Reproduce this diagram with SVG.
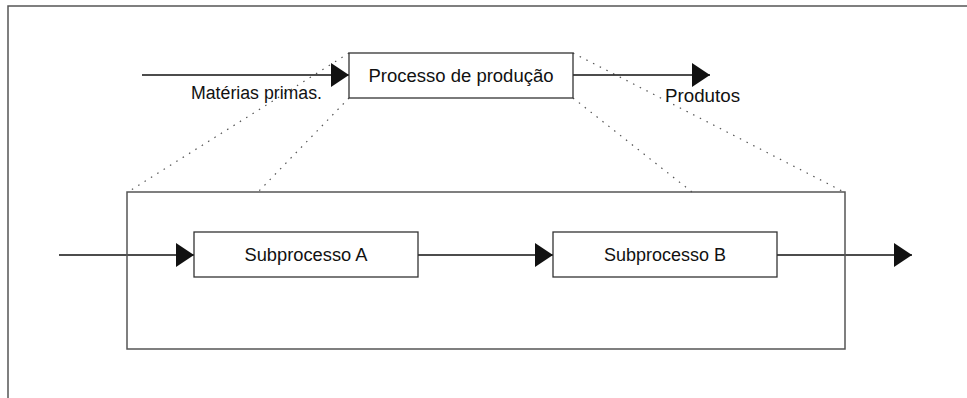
<svg xmlns="http://www.w3.org/2000/svg" width="967" height="398" viewBox="0 0 967 398">
<style>
.box{fill:#fff;stroke:#333;stroke-width:1.3}
.frame{fill:none;stroke:#555;stroke-width:1.5}
.ln{fill:none;stroke:#111;stroke-width:1.4}
.dot{fill:none;stroke:#555;stroke-width:1.2;stroke-dasharray:1.5 6}
text{font-family:"Liberation Sans",Arial,sans-serif;font-size:18px;fill:#111}
</style>
<defs>
<marker id="ah" markerUnits="userSpaceOnUse" markerWidth="20" markerHeight="26" refX="18" refY="12" orient="auto" overflow="visible">
<path d="M0,0 L18,12 L0,24 Z" fill="#111"/>
</marker>
</defs>
<rect width="967" height="398" fill="#fff"/>
<path class="frame" d="M8,398 V6 H967"/>
<g id="connectors">
<line class="dot" x1="349" y1="53" x2="128" y2="192"/>
<line class="dot" x1="349" y1="98" x2="258" y2="192"/>
<line class="dot" x1="573" y1="53" x2="844" y2="192"/>
<line class="dot" x1="573" y1="98" x2="692" y2="192"/>
<line class="ln" x1="142" y1="75" x2="349" y2="75" marker-end="url(#ah)"/>
<line class="ln" x1="573" y1="75" x2="710" y2="75" marker-end="url(#ah)"/>
<line class="ln" x1="59" y1="255" x2="194" y2="255" marker-end="url(#ah)"/>
<line class="ln" x1="418" y1="255" x2="553" y2="255" marker-end="url(#ah)"/>
<line class="ln" x1="777" y1="255" x2="912" y2="255" marker-end="url(#ah)"/>
</g>
<g id="processo-detalhe">
<rect class="frame" x="127" y="192" width="718" height="157"/>
</g>
<g id="processo">
<rect class="box" x="349" y="53" width="224" height="45"/>
<text x="461" y="82" text-anchor="middle" textLength="185" lengthAdjust="spacingAndGlyphs">Processo de produção</text>
</g>
<g id="materias">
<text x="191" y="99" textLength="131" lengthAdjust="spacingAndGlyphs">Matérias primas.</text>
</g>
<g id="produtos">
<text x="665" y="102" textLength="75" lengthAdjust="spacingAndGlyphs">Produtos</text>
</g>
<g id="subA">
<rect class="box" x="194" y="232" width="224" height="45"/>
<text x="306" y="261" text-anchor="middle" textLength="123" lengthAdjust="spacingAndGlyphs">Subprocesso A</text>
</g>
<g id="subB">
<rect class="box" x="553" y="232" width="224" height="45"/>
<text x="665" y="261" text-anchor="middle" textLength="122" lengthAdjust="spacingAndGlyphs">Subprocesso B</text>
</g>
</svg>
